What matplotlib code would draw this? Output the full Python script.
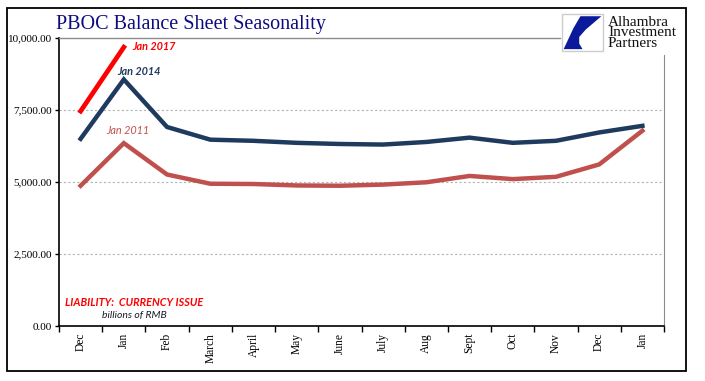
import matplotlib.pyplot as plt
from matplotlib.patches import Rectangle, Polygon
from matplotlib.lines import Line2D

months = ["Dec", "Jan", "Feb", "March", "April", "May", "June", "July",
          "Aug", "Sept", "Oct", "Nov", "Dec", "Jan"]
jan2014 = [6500, 8560, 6910, 6470, 6430, 6360, 6320, 6300, 6390, 6540,
           6360, 6430, 6720, 6950]
jan2011 = [4870, 6350, 5260, 4940, 4930, 4880, 4870, 4910, 4990, 5210,
           5100, 5180, 5610, 6780]
jan2017 = [7460, 9680]
yticks = [0, 2500, 5000, 7500, 10000]

navy = "#1f3a5f"
rose = "#c0504d"

fig = plt.figure(figsize=(7.05, 3.81), dpi=100)
ax = fig.add_axes([59/705, 55/381, 605/705, 288/381])

x = range(len(months))
ax.plot(x, jan2011, color=rose, lw=3.2, solid_joinstyle="miter", zorder=3)
ax.plot(x, jan2014, color=navy, lw=3.2, solid_joinstyle="miter", zorder=3)
ax.plot(range(len(jan2017)), jan2017, color="#ff0000", lw=3.4, zorder=4)

ax.set_xlim(-0.5, len(months) - 0.5)
ax.set_ylim(0, 10000)
ax.set_yticks(yticks)
ax.set_yticklabels([f"{v:,.2f}" for v in yticks], family="Liberation Serif", fontsize=8)
for v in yticks[1:4]:
    ax.axhline(v, color="#b4b4b4", lw=0.8, ls=(0, (2, 2)), zorder=1)

ax.set_xticks([i - 0.5 for i in range(len(months) + 1)])
ax.set_xticklabels([])
ax.set_xticks(list(x), minor=True)
ax.set_xticklabels(months, minor=True, rotation=90, family="Liberation Serif", fontsize=8.3)
ax.tick_params(axis="x", which="minor", length=0, pad=5)
ax.tick_params(axis="x", which="major", length=4, width=1, direction="out")
ax.tick_params(axis="y", length=3, width=1, direction="out", pad=2)

ax.spines["top"].set_visible(False)
ax.spines["right"].set_color("#8c8c8c")
ax.spines["right"].set_bounds(0, 9410)
ax.spines["left"].set_linewidth(1.2)
ax.spines["bottom"].set_linewidth(1.2)

# top border line, stops at the logo
fig.add_artist(Line2D([59/705, 560/705], [1 - 38/381, 1 - 38/381], color="#8c8c8c", lw=1))

# annotations
ann = dict(family="Lato", style="italic", fontsize=7.8, va="center")
ax.text(1.2, 9720, "Jan 2017", color="#ff0000", weight="bold", **ann)
ax.text(0.85, 8820, "Jan 2014", color=navy, weight="bold", **ann)
ax.text(0.6, 6800, "Jan 2011", color=rose, **ann)
ax.text(-0.35, 830, "LIABILITY:  CURRENCY ISSUE", color="#ff0000", weight="bold", **ann)
ax.text(0.5, 350, "billions of RMB", color="#1a1a2a", family="Lato", style="italic",
        fontsize=7.5, va="center")

fig.text(56/705, 1 - 24/381, "PBOC Balance Sheet Seasonality", color="#0c0c80",
         family="Liberation Serif", fontsize=14.5, va="center")

# logo
bx, by, bw, bh = 562/705, 1 - 51/381, 41/705, 37/381
fig.add_artist(Rectangle((bx, by), bw, bh, fill=False, ec="#cccccc", lw=1))
shape = [(0.04, 0.05), (0.5, 0.05), (0.42, 0.2), (0.42, 0.38), (0.58, 0.58),
         (0.96, 0.94), (0.45, 0.94), (0.28, 0.62)]
fig.add_artist(Polygon([(bx + px * bw, by + py * bh) for px, py in shape],
                       closed=True, fc="#0a1a9a", ec="none"))
fig.text(608/705, 1 - 33/381, "Alhambra\nInvestment\nPartners", family="Liberation Serif",
         fontsize=11, linespacing=0.78, va="center", color="#111111")

# outer frame
fig.add_artist(Rectangle((7/705, 10/381), 679/705, 363/381, fill=False, ec="black", lw=1.3))

fig.savefig("out.png", dpi=100)
